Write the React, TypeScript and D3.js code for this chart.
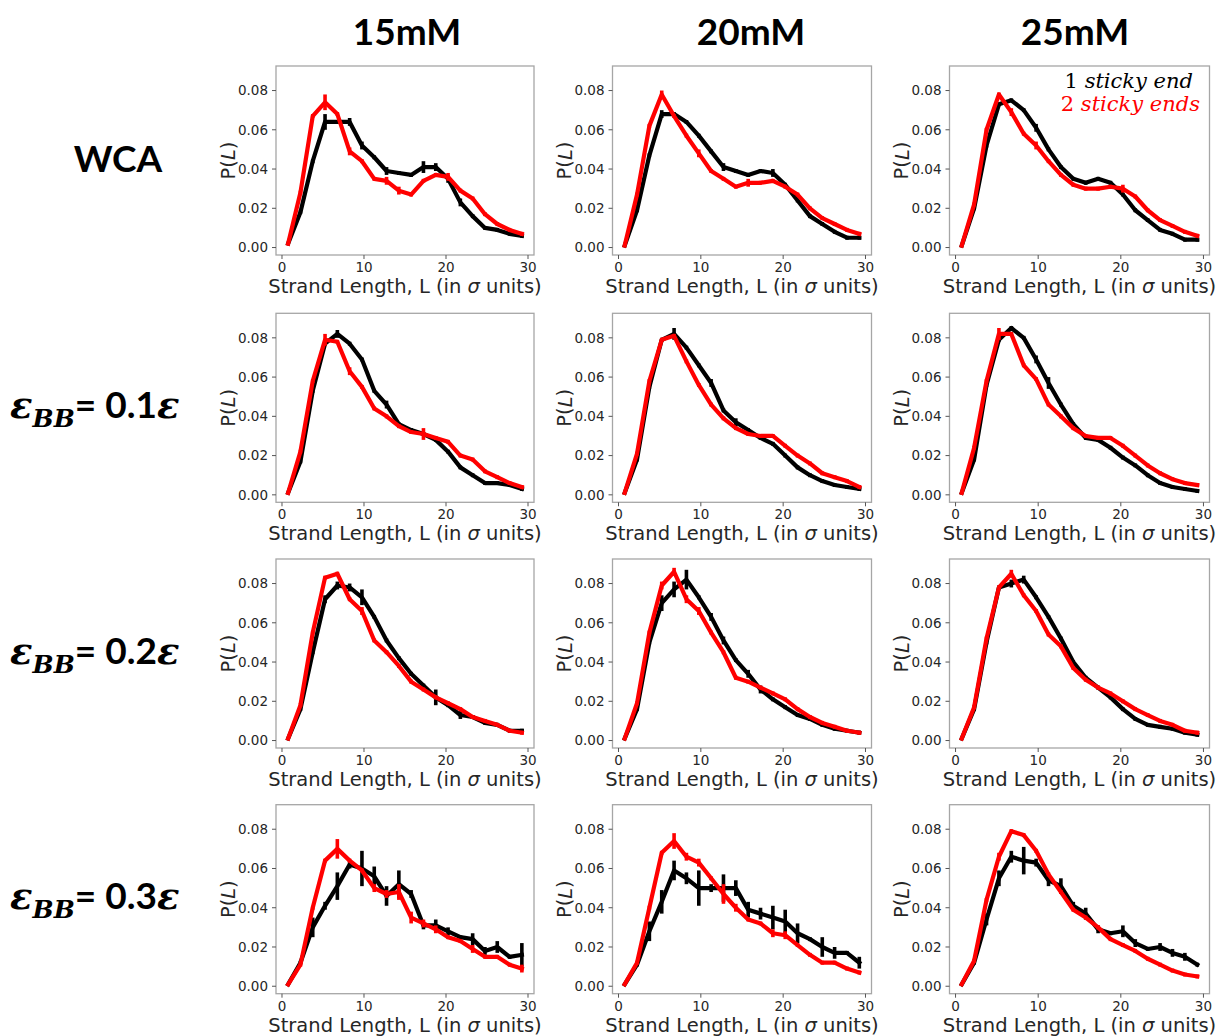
import React from "react";
import * as d3 from "d3";

// Bin centres of the strand-length histogram (in sigma units)
const strandLength = [
  0.75, 2.25, 3.75, 5.25, 6.75, 8.25, 9.75, 11.25, 12.75, 14.25,
  15.75, 17.25, 18.75, 20.25, 21.75, 23.25, 24.75, 26.25, 27.75, 29.25,
];

const saltLabels = ["15mM", "20mM", "25mM"];
const yTicks = [0, 0.02, 0.04, 0.06, 0.08];
const xTicks = [0, 10, 20, 30];

// ---- WCA ----
const wca15One = [0.002, 0.018, 0.044, 0.064, 0.064, 0.064, 0.052, 0.046, 0.039, 0.038, 0.037, 0.041, 0.041, 0.035, 0.023, 0.016, 0.010, 0.009, 0.007, 0.006];
const wca15OneErr = [0, 0.001, 0.001, 0.004, 0.001, 0.002, 0.002, 0.001, 0.002, 0.001, 0.001, 0.003, 0.002, 0.002, 0.002, 0.001, 0.001, 0.001, 0.001, 0.001];
const wca15Two = [0.002, 0.028, 0.067, 0.074, 0.068, 0.049, 0.044, 0.035, 0.034, 0.029, 0.027, 0.034, 0.037, 0.036, 0.029, 0.025, 0.017, 0.012, 0.009, 0.007];
const wca15TwoErr = [0, 0.001, 0.001, 0.004, 0.001, 0.002, 0.001, 0.001, 0.002, 0.002, 0.001, 0.001, 0.001, 0.002, 0.001, 0.001, 0.001, 0.001, 0.001, 0.001];

const wca20One = [0.001, 0.019, 0.047, 0.068, 0.068, 0.064, 0.057, 0.049, 0.041, 0.039, 0.037, 0.039, 0.038, 0.032, 0.024, 0.016, 0.012, 0.008, 0.005, 0.005];
const wca20OneErr = [0, 0.001, 0.001, 0.002, 0.001, 0.001, 0.001, 0.001, 0.002, 0.001, 0.001, 0.001, 0.002, 0.001, 0.001, 0.001, 0.001, 0.001, 0.001, 0.001];
const wca20Two = [0.001, 0.027, 0.062, 0.078, 0.067, 0.057, 0.048, 0.039, 0.035, 0.031, 0.033, 0.033, 0.034, 0.031, 0.027, 0.020, 0.015, 0.012, 0.009, 0.007];
const wca20TwoErr = [0, 0.001, 0.001, 0.002, 0.001, 0.001, 0.002, 0.001, 0.001, 0.001, 0.002, 0.001, 0.001, 0.001, 0.001, 0.001, 0.001, 0.001, 0.001, 0.001];

const wca25One = [0.001, 0.020, 0.052, 0.073, 0.075, 0.070, 0.061, 0.050, 0.041, 0.035, 0.033, 0.035, 0.033, 0.027, 0.019, 0.014, 0.009, 0.007, 0.004, 0.004];
const wca25OneErr = [0, 0.001, 0.001, 0.001, 0.001, 0.001, 0.002, 0.001, 0.001, 0.001, 0.001, 0.001, 0.001, 0.001, 0.001, 0.001, 0.001, 0.001, 0.001, 0.001];
const wca25Two = [0.001, 0.022, 0.060, 0.078, 0.069, 0.058, 0.052, 0.044, 0.037, 0.032, 0.030, 0.030, 0.031, 0.030, 0.026, 0.019, 0.014, 0.011, 0.008, 0.006];
const wca25TwoErr = [0, 0.001, 0.001, 0.001, 0.002, 0.001, 0.002, 0.001, 0.001, 0.001, 0.001, 0.001, 0.001, 0.002, 0.001, 0.001, 0.001, 0.001, 0.001, 0.001];

// ---- eps_BB = 0.1 eps ----
const bb01At15One = [0.001, 0.017, 0.053, 0.077, 0.082, 0.077, 0.069, 0.053, 0.046, 0.036, 0.033, 0.031, 0.028, 0.022, 0.014, 0.010, 0.006, 0.006, 0.005, 0.003];
const bb01At15OneErr = [0, 0.001, 0.001, 0.001, 0.002, 0.001, 0.001, 0.001, 0.002, 0.001, 0.001, 0.001, 0.001, 0.001, 0.001, 0.001, 0.001, 0.001, 0.001, 0.001];
const bb01At15Two = [0.001, 0.022, 0.058, 0.079, 0.078, 0.063, 0.055, 0.044, 0.040, 0.035, 0.032, 0.031, 0.029, 0.027, 0.020, 0.018, 0.012, 0.009, 0.006, 0.004];
const bb01At15TwoErr = [0, 0.001, 0.001, 0.003, 0.001, 0.002, 0.001, 0.001, 0.001, 0.001, 0.001, 0.003, 0.001, 0.001, 0.001, 0.001, 0.001, 0.001, 0.001, 0.001];

const bb01At20One = [0.001, 0.018, 0.055, 0.079, 0.082, 0.075, 0.066, 0.057, 0.043, 0.037, 0.033, 0.029, 0.026, 0.020, 0.014, 0.010, 0.007, 0.005, 0.004, 0.003];
const bb01At20OneErr = [0, 0.001, 0.001, 0.001, 0.003, 0.001, 0.001, 0.002, 0.001, 0.002, 0.001, 0.001, 0.001, 0.001, 0.001, 0.001, 0.001, 0.001, 0.001, 0.001];
const bb01At20Two = [0.001, 0.021, 0.058, 0.079, 0.081, 0.068, 0.056, 0.046, 0.039, 0.034, 0.031, 0.030, 0.030, 0.025, 0.020, 0.016, 0.011, 0.009, 0.007, 0.004];
const bb01At20TwoErr = [0, 0.001, 0.001, 0.001, 0.001, 0.001, 0.001, 0.001, 0.001, 0.001, 0.001, 0.001, 0.001, 0.001, 0.001, 0.001, 0.001, 0.001, 0.001, 0.001];

const bb01At25One = [0.001, 0.018, 0.056, 0.079, 0.085, 0.080, 0.069, 0.057, 0.046, 0.036, 0.029, 0.028, 0.024, 0.019, 0.015, 0.010, 0.006, 0.004, 0.003, 0.002];
const bb01At25OneErr = [0, 0.001, 0.001, 0.001, 0.001, 0.001, 0.002, 0.003, 0.001, 0.001, 0.001, 0.001, 0.001, 0.001, 0.001, 0.001, 0.001, 0.001, 0.001, 0.001];
const bb01At25Two = [0.001, 0.024, 0.058, 0.082, 0.082, 0.066, 0.059, 0.046, 0.040, 0.034, 0.030, 0.029, 0.029, 0.025, 0.020, 0.015, 0.011, 0.008, 0.006, 0.005];
const bb01At25TwoErr = [0, 0.001, 0.001, 0.003, 0.001, 0.001, 0.001, 0.001, 0.001, 0.001, 0.001, 0.001, 0.001, 0.001, 0.001, 0.001, 0.001, 0.001, 0.001, 0.001];

// ---- eps_BB = 0.2 eps ----
const bb02At15One = [0.001, 0.016, 0.045, 0.072, 0.079, 0.078, 0.073, 0.063, 0.051, 0.042, 0.034, 0.028, 0.022, 0.018, 0.013, 0.012, 0.009, 0.008, 0.005, 0.005];
const bb02At15OneErr = [0, 0.001, 0.001, 0.002, 0.002, 0.002, 0.004, 0.001, 0.001, 0.001, 0.001, 0.001, 0.004, 0.001, 0.002, 0.001, 0.001, 0.001, 0.001, 0.001];
const bb02At15Two = [0.001, 0.018, 0.055, 0.083, 0.085, 0.072, 0.066, 0.051, 0.045, 0.038, 0.030, 0.026, 0.022, 0.019, 0.016, 0.012, 0.010, 0.008, 0.005, 0.004];
const bb02At15TwoErr = [0, 0.001, 0.001, 0.001, 0.001, 0.001, 0.002, 0.001, 0.001, 0.001, 0.001, 0.001, 0.001, 0.001, 0.001, 0.001, 0.001, 0.001, 0.001, 0.001];

const bb02At20One = [0.001, 0.016, 0.050, 0.070, 0.077, 0.082, 0.073, 0.063, 0.051, 0.041, 0.034, 0.026, 0.021, 0.017, 0.013, 0.011, 0.008, 0.006, 0.005, 0.004];
const bb02At20OneErr = [0, 0.001, 0.001, 0.004, 0.004, 0.005, 0.001, 0.002, 0.002, 0.001, 0.002, 0.002, 0.001, 0.001, 0.001, 0.001, 0.001, 0.001, 0.001, 0.001];
const bb02At20Two = [0.001, 0.019, 0.055, 0.079, 0.086, 0.072, 0.066, 0.055, 0.045, 0.032, 0.030, 0.027, 0.024, 0.021, 0.016, 0.012, 0.009, 0.007, 0.005, 0.004];
const bb02At20TwoErr = [0, 0.001, 0.001, 0.002, 0.002, 0.002, 0.002, 0.001, 0.001, 0.001, 0.001, 0.001, 0.001, 0.001, 0.001, 0.001, 0.001, 0.001, 0.001, 0.001];

const bb02At25One = [0.001, 0.016, 0.050, 0.078, 0.080, 0.082, 0.073, 0.063, 0.052, 0.040, 0.032, 0.027, 0.022, 0.016, 0.011, 0.008, 0.007, 0.006, 0.004, 0.003];
const bb02At25OneErr = [0, 0.001, 0.001, 0.001, 0.002, 0.002, 0.001, 0.001, 0.001, 0.001, 0.001, 0.001, 0.001, 0.001, 0.001, 0.001, 0.001, 0.001, 0.001, 0.001];
const bb02At25Two = [0.001, 0.017, 0.052, 0.078, 0.085, 0.074, 0.066, 0.054, 0.048, 0.037, 0.031, 0.027, 0.024, 0.020, 0.016, 0.013, 0.010, 0.008, 0.005, 0.004];
const bb02At25TwoErr = [0, 0.001, 0.001, 0.001, 0.002, 0.001, 0.001, 0.001, 0.001, 0.001, 0.001, 0.001, 0.001, 0.001, 0.001, 0.001, 0.001, 0.001, 0.001, 0.001];

// ---- eps_BB = 0.3 eps ----
const bb03At15One = [0.001, 0.012, 0.030, 0.041, 0.051, 0.062, 0.060, 0.056, 0.046, 0.052, 0.047, 0.031, 0.031, 0.028, 0.025, 0.024, 0.018, 0.020, 0.015, 0.016];
const bb03At15OneErr = [0, 0.001, 0.005, 0.002, 0.007, 0.002, 0.009, 0.005, 0.005, 0.007, 0.002, 0.002, 0.003, 0.002, 0.001, 0.003, 0.002, 0.003, 0.001, 0.006];
const bb03At15Two = [0.001, 0.011, 0.040, 0.064, 0.070, 0.064, 0.059, 0.050, 0.047, 0.048, 0.035, 0.032, 0.029, 0.025, 0.023, 0.019, 0.015, 0.015, 0.011, 0.009];
const bb03At15TwoErr = [0, 0.001, 0.001, 0.001, 0.005, 0.001, 0.001, 0.002, 0.002, 0.004, 0.003, 0.002, 0.002, 0.001, 0.001, 0.002, 0.001, 0.001, 0.001, 0.002];

const bb03At20One = [0.001, 0.011, 0.028, 0.043, 0.059, 0.055, 0.050, 0.050, 0.050, 0.050, 0.039, 0.037, 0.035, 0.033, 0.027, 0.024, 0.020, 0.017, 0.017, 0.012];
const bb03At20OneErr = [0, 0.001, 0.005, 0.006, 0.005, 0.003, 0.009, 0.002, 0.007, 0.004, 0.004, 0.003, 0.006, 0.006, 0.005, 0.001, 0.005, 0.003, 0.001, 0.003];
const bb03At20Two = [0.001, 0.012, 0.040, 0.068, 0.074, 0.066, 0.063, 0.055, 0.047, 0.040, 0.034, 0.032, 0.027, 0.026, 0.021, 0.016, 0.012, 0.012, 0.009, 0.007];
const bb03At20TwoErr = [0, 0.001, 0.001, 0.001, 0.004, 0.002, 0.002, 0.001, 0.005, 0.002, 0.001, 0.001, 0.002, 0.002, 0.001, 0.001, 0.001, 0.001, 0.001, 0.001];

const bb03At25One = [0.001, 0.012, 0.034, 0.055, 0.066, 0.064, 0.063, 0.054, 0.051, 0.041, 0.037, 0.029, 0.027, 0.028, 0.022, 0.019, 0.020, 0.017, 0.015, 0.011];
const bb03At25OneErr = [0, 0.001, 0.003, 0.004, 0.003, 0.007, 0.002, 0.003, 0.004, 0.002, 0.003, 0.002, 0.001, 0.003, 0.002, 0.001, 0.002, 0.002, 0.002, 0.001];
const bb03At25Two = [0.001, 0.013, 0.044, 0.066, 0.079, 0.077, 0.069, 0.057, 0.048, 0.039, 0.035, 0.030, 0.024, 0.021, 0.018, 0.014, 0.011, 0.008, 0.006, 0.005];
const bb03At25TwoErr = [0, 0.001, 0.001, 0.002, 0.001, 0.001, 0.001, 0.001, 0.001, 0.001, 0.001, 0.001, 0.001, 0.001, 0.001, 0.001, 0.001, 0.001, 0.001, 0.001];

const panelData = [
  [
    [wca15One, wca15OneErr, wca15Two, wca15TwoErr],
    [wca20One, wca20OneErr, wca20Two, wca20TwoErr],
    [wca25One, wca25OneErr, wca25Two, wca25TwoErr],
  ],
  [
    [bb01At15One, bb01At15OneErr, bb01At15Two, bb01At15TwoErr],
    [bb01At20One, bb01At20OneErr, bb01At20Two, bb01At20TwoErr],
    [bb01At25One, bb01At25OneErr, bb01At25Two, bb01At25TwoErr],
  ],
  [
    [bb02At15One, bb02At15OneErr, bb02At15Two, bb02At15TwoErr],
    [bb02At20One, bb02At20OneErr, bb02At20Two, bb02At20TwoErr],
    [bb02At25One, bb02At25OneErr, bb02At25Two, bb02At25TwoErr],
  ],
  [
    [bb03At15One, bb03At15OneErr, bb03At15Two, bb03At15TwoErr],
    [bb03At20One, bb03At20OneErr, bb03At20Two, bb03At20TwoErr],
    [bb03At25One, bb03At25OneErr, bb03At25Two, bb03At25TwoErr],
  ],
];

const rowValues = ["0.1", "0.2", "0.3"];

// layout
const colLeft = [276, 612.5, 949.5];
const colWidth = [258, 259, 260];
const rowTop = [66, 313.3, 559, 804.7];
const plotHeight = 189;

const SANS = "'DejaVu Sans', sans-serif";
const BOLD = "Lato, 'Open Sans', sans-serif";
const SERIF = "'DejaVu Serif', serif";
const ONE_COLOR = "#000000";
const TWO_COLOR = "#ff0000";
const fmt = d3.format(".2f");

function Series({ values, errors, color, x, y }: any) {
  const line = d3
    .line<number>()
    .x((_, i) => x(strandLength[i]))
    .y((d) => y(d));
  return (
    <g>
      <path
        d={line(values) || ""}
        fill="none"
        stroke={color}
        strokeWidth={4.2}
        strokeLinejoin="round"
        strokeLinecap="square"
      />
      {values.map((v: number, i: number) =>
        errors[i] > 0 ? (
          <line
            key={i}
            x1={x(strandLength[i])}
            x2={x(strandLength[i])}
            y1={y(v - errors[i])}
            y2={y(v + errors[i])}
            stroke={color}
            strokeWidth={3.6}
          />
        ) : null
      )}
    </g>
  );
}

function Panel({ row, col }: { row: number; col: number }) {
  const left = colLeft[col];
  const width = colWidth[col];
  const top = rowTop[row];
  const [one, oneErr, two, twoErr] = panelData[row][col];
  const x = d3.scaleLinear().domain([-0.73, 30.73]).range([left, left + width]);
  const y = d3.scaleLinear().domain([-0.0038, 0.0925]).range([top + plotHeight, top]);
  const bottom = top + plotHeight;
  return (
    <g>
      <rect x={left} y={top} width={width} height={plotHeight} fill="#fff" stroke="#a6a6a6" strokeWidth={1.3} />
      <Series values={one} errors={oneErr} color={ONE_COLOR} x={x} y={y} />
      <Series values={two} errors={twoErr} color={TWO_COLOR} x={x} y={y} />
      {yTicks.map((t) => (
        <g key={t}>
          <line x1={left - 4} x2={left} y1={y(t)} y2={y(t)} stroke="#555" strokeWidth={1} />
          <text x={left - 8} y={y(t)} dy="0.36em" textAnchor="end" fontSize={13.5} fill="#262626" fontFamily={SANS}>
            {fmt(t)}
          </text>
        </g>
      ))}
      {xTicks.map((t) => (
        <g key={t}>
          <line x1={x(t)} x2={x(t)} y1={bottom} y2={bottom + 4} stroke="#555" strokeWidth={1} />
          <text x={x(t)} y={bottom + 17} textAnchor="middle" fontSize={13.5} fill="#262626" fontFamily={SANS}>
            {t}
          </text>
        </g>
      ))}
      <text
        x={x(15)}
        y={bottom + 38}
        textAnchor="middle"
        fontSize={19.5}
        fill="#262626"
        fontFamily={SANS}
      >
        Strand Length, L (in <tspan fontStyle="italic">σ</tspan> units)
      </text>
      <text
        transform={`translate(${left - 48},${top + plotHeight / 2}) rotate(-90)`}
        textAnchor="middle"
        dominantBaseline="central"
        fontSize={19.5}
        fill="#262626"
        fontFamily={SANS}
      >
        P(<tspan fontStyle="italic">L</tspan>)
      </text>
    </g>
  );
}

export default function App() {
  const headerX = [407, 751, 1075];
  return (
    <svg
      width={1225}
      height={1036}
      viewBox="0 0 1225 1036"
      style={{ position: "absolute", left: 0, top: 0, background: "#fff" }}
    >
      <rect width={1225} height={1036} fill="#fff" />
      {saltLabels.map((s, i) => (
        <text key={s} x={headerX[i]} y={45} textAnchor="middle" fontSize={37} fontWeight="bold" fontFamily={BOLD} fill="#000">
          {s}
        </text>
      ))}
      <text x={118} y={172} textAnchor="middle" fontSize={37} fontWeight="bold" fontFamily={BOLD} fill="#000">
        WCA
      </text>
      {rowValues.map((v, i) => (
        <text key={v} x={10} y={418 + i * 245.5} fontSize={37} fontWeight="bold" fontFamily={BOLD} fill="#000">
          <tspan fontFamily={SERIF} fontStyle="italic">ε</tspan>
          <tspan fontFamily={SERIF} fontStyle="italic" fontSize={25} dy={9}>BB</tspan>
          <tspan dy={-9}>= {v}</tspan>
          <tspan fontFamily={SERIF} fontStyle="italic">ε</tspan>
        </text>
      ))}
      {[0, 1, 2, 3].map((r) => [0, 1, 2].map((c) => <Panel key={`${r}-${c}`} row={r} col={c} />))}
      <text x={1193} y={88} textAnchor="end" fontSize={21} fontFamily={SERIF} fill={ONE_COLOR}>
        1 <tspan fontStyle="italic">sticky end</tspan>
      </text>
      <text x={1200} y={111} textAnchor="end" fontSize={21} fontFamily={SERIF} fill={TWO_COLOR}>
        2 <tspan fontStyle="italic">sticky ends</tspan>
      </text>
    </svg>
  );
}
